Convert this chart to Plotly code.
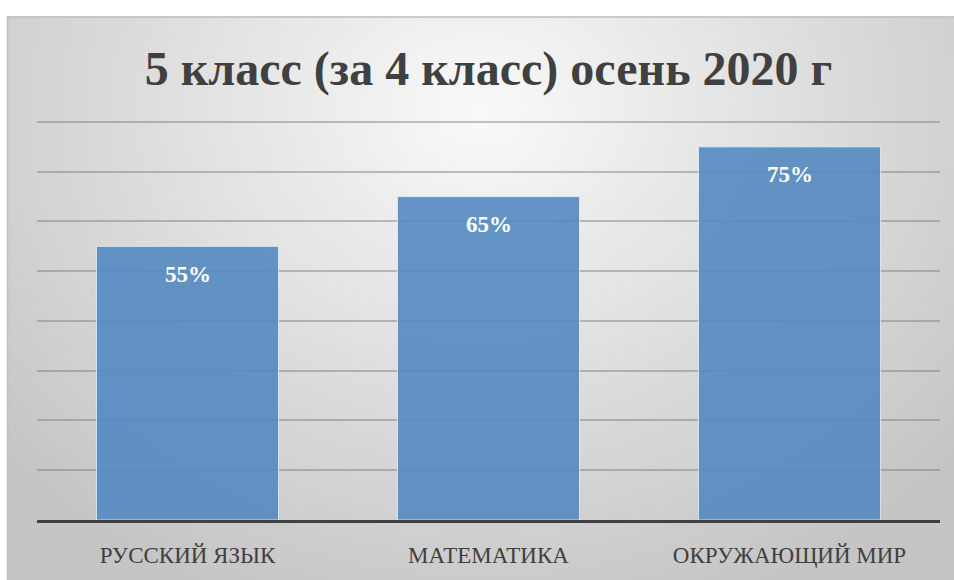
import base64, struct, zlib
import numpy as np
import plotly.graph_objects as go

# ---- data ----
categories = ["РУССКИЙ ЯЗЫК", "МАТЕМАТИКА", "ОКРУЖАЮЩИЙ МИР"]
values = [55, 65, 75]
value_labels = ["55%", "65%", "75%"]
title_text = "5 класс (за 4 класс) осень 2020 г"

W, H = 954, 580
L, R, T, B = 37, 14, 117, 50
pw, ph = W - L - R, H - T - B

def px_to_paper_x(px):
    return (px - L) / pw

def px_to_paper_y(py):
    return (H - B - py) / ph

# ---- radial gradient background as in-memory PNG ----
def make_png(arr):
    h, w, _ = arr.shape
    raw = b"".join(b"\x00" + arr[i].tobytes() for i in range(h))
    def chunk(tag, data):
        c = struct.pack(">I", len(data)) + tag + data
        return c + struct.pack(">I", zlib.crc32(tag + data) & 0xffffffff)
    png = b"\x89PNG\r\n\x1a\n"
    png += chunk(b"IHDR", struct.pack(">IIBBBBB", w, h, 8, 2, 0, 0, 0))
    png += chunk(b"IDAT", zlib.compress(raw, 9))
    png += chunk(b"IEND", b"")
    return png

fx0, fy0, fx1, fy1 = 7, 14, 964, 600
gw, gh = 240, 150
xs = np.linspace(fx0, fx1, gw)
ys = np.linspace(fy0, fy1, gh)
X, Y = np.meshgrid(xs, ys)
d = np.sqrt(((X - 480) / 600.0) ** 2 + ((Y - 110) / 520.0) ** 2)
v = 250 - 50 * np.clip(d, 0, 1.05)
img = np.clip(np.stack([v, v, v], axis=-1), 0, 255).astype(np.uint8)
src = "data:image/png;base64," + base64.b64encode(make_png(img)).decode()

fig = go.Figure()
fig.add_trace(go.Bar(
    x=categories, y=values,
    marker=dict(color="rgba(84,137,193,0.9)",
                line=dict(color="rgba(235,242,250,0.8)", width=1)),
    width=0.605,
    hoverinfo="skip",
))

for c, val, lab in zip(categories, values, value_labels):
    fig.add_annotation(x=c, y=val, text="<b>" + lab + "</b>", showarrow=False,
                       yanchor="middle", yshift=-28,
                       font=dict(family="Liberation Serif", size=23, color="white"))

fig.add_layout_image(dict(
    source=src, xref="paper", yref="paper",
    x=px_to_paper_x(fx0), y=px_to_paper_y(fy0),
    sizex=px_to_paper_x(fx1) - px_to_paper_x(fx0),
    sizey=px_to_paper_y(fy0) - px_to_paper_y(fy1),
    xanchor="left", yanchor="top", sizing="stretch", layer="below",
))

fig.add_shape(type="rect", xref="paper", yref="paper",
              x0=px_to_paper_x(fx0 + 0.5), x1=px_to_paper_x(fx1),
              y0=px_to_paper_y(fy1), y1=px_to_paper_y(fy0 + 0.5),
              line=dict(color="#bdbdbd", width=1.5), layer="below")

fig.update_layout(
    width=W, height=H,
    margin=dict(l=L, r=R, t=T, b=B, pad=0),
    paper_bgcolor="white",
    plot_bgcolor="rgba(0,0,0,0)",
    showlegend=False,
    title=dict(text="<b>" + title_text + "</b>", x=0.5, xref="paper",
               xanchor="center", y=1 - 68 / H, yanchor="middle",
               font=dict(family="Liberation Serif", size=48, color="#404040")),
    xaxis=dict(showline=True, linecolor="#404040", linewidth=3,
               ticks="", tickfont=dict(family="Liberation Serif", size=23, color="#404040"),
               ticklabelstandoff=12, showgrid=False),
    yaxis=dict(range=[0, 81], tick0=0, dtick=10, showticklabels=False, zeroline=False,
               showgrid=True, gridcolor="rgba(120,120,120,0.45)", gridwidth=1.5,
               fixedrange=True),
)

post = ("document.body.style.margin='0';document.body.style.overflow='hidden';")
fig.write_html("out.html", config={"displayModeBar": False}, post_script=post)
